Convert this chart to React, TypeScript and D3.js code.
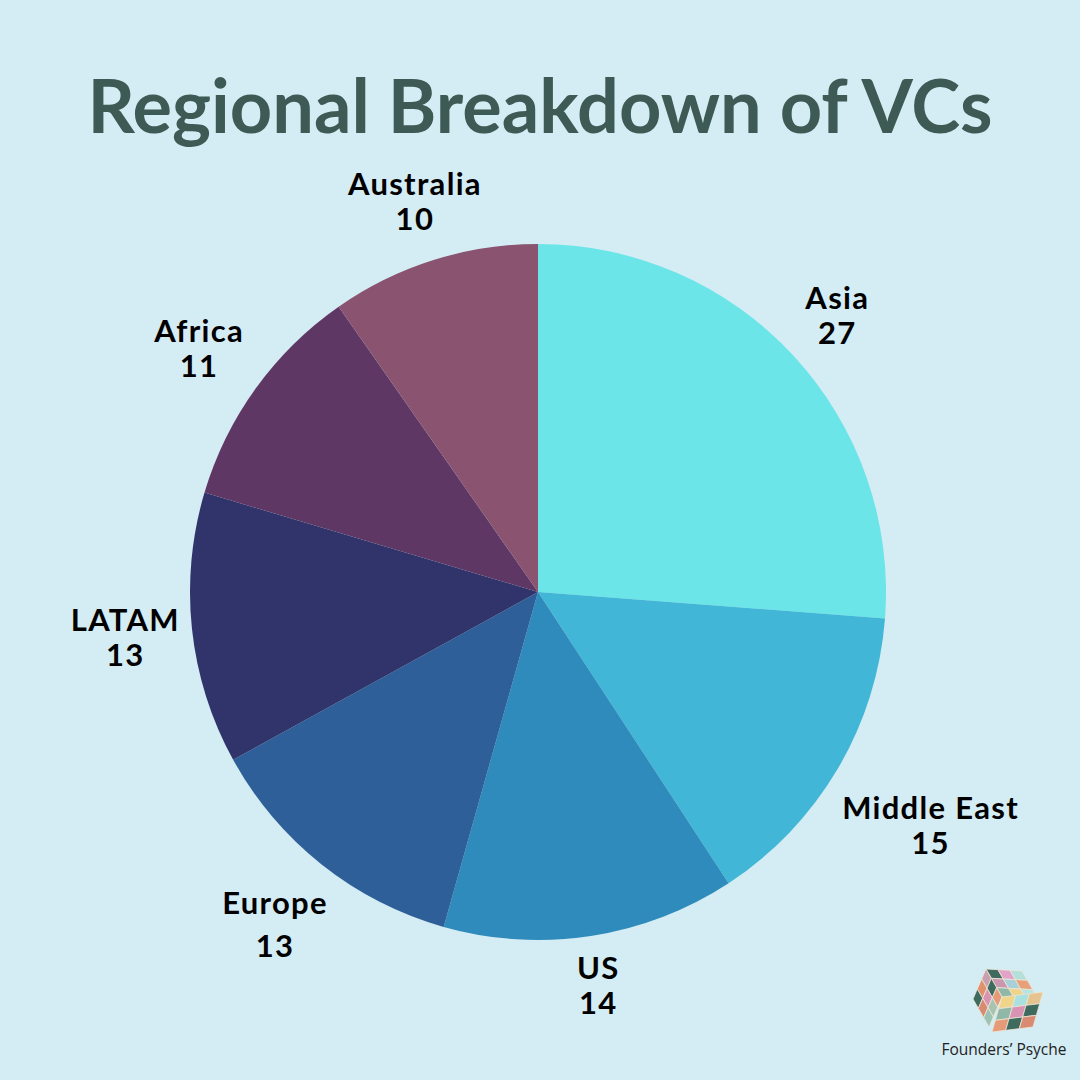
import React from "react";
import * as d3 from "d3";

const regions = ["Asia", "Middle East", "US", "Europe", "LATAM", "Africa", "Australia"];
const counts = [27, 15, 14, 13, 13, 11, 10];
const colors = ["#6be5e8", "#42b6d6", "#2e8bbb", "#2e5f98", "#30346b", "#5e3764", "#8a5370"];

const W = 1080;
const H = 1080;
const CX = 538;
const CY = 592;
const R = 348;
const labelR: Record<string, number> = {
  Asia: 408,
  "Middle East": 456,
  US: 397,
  Europe: 423,
  LATAM: 415,
  Africa: 418,
  Australia: 410,
};

// Rubik's cube logo: three faces, 3x3 cells each
const topFace = ["#3f6a5e", "#e3a3c8", "#b4e0dc", "#c998b0", "#a9cfd8", "#e8a07a", "#8fb8a8", "#efd48a", "#b7e3e0"];
const leftFace = ["#c9a0b0", "#3f6a5e", "#e59a78", "#e0906a", "#d994b4", "#a8c4b0", "#3f6a5e", "#d98a72", "#9cc4b4"];
const rightFace = ["#efd48a", "#a9e0e0", "#e6c490", "#8fb8a8", "#d994b4", "#3f6a5e", "#e59a78", "#3f6a5e", "#d98a72"];

type Face = { o: number[]; u: number[]; v: number[]; cols: string[] };

function Cube() {
  const faces: Face[] = [
    { o: [986, 969], u: [36, 2], v: [16, 28], cols: topFace },
    { o: [986, 969], u: [16, 28], v: [-13, 30], cols: leftFace },
    { o: [1002, 997], u: [41, -5], v: [-10, 35], cols: rightFace },
  ];
  const cells: JSX.Element[] = [];
  faces.forEach((f, fi) => {
    for (let i = 0; i < 3; i++)
      for (let j = 0; j < 3; j++) {
        const ux = f.u[0] / 3, uy = f.u[1] / 3, vx = f.v[0] / 3, vy = f.v[1] / 3;
        const px = f.o[0] + i * ux + j * vx;
        const py = f.o[1] + i * uy + j * vy;
        const pts = [
          [px, py],
          [px + ux, py + uy],
          [px + ux + vx, py + uy + vy],
          [px + vx, py + vy],
        ];
        cells.push(
          <polygon
            key={`${fi}-${i}-${j}`}
            points={pts.map((p) => p.join(",")).join(" ")}
            fill={f.cols[j * 3 + i]}
            stroke="#ece6d6"
            strokeWidth={0.8}
            strokeLinejoin="round"
          />
        );
      }
  });
  return <g>{cells}</g>;
}

export default function App() {
  const pie = d3.pie<number>().sort(null).value((d) => d);
  const arcs = pie(counts);
  const arc = d3.arc<d3.PieArcDatum<number>>().innerRadius(0).outerRadius(R);

  return (
    <svg width={W} height={H} style={{ position: "absolute", left: 0, top: 0 }}>
      <rect width={W} height={H} fill="#d4ecf4" />
      <text
        x={540}
        y={133}
        textAnchor="middle"
        fontFamily="Lato, 'Open Sans', sans-serif"
        fontWeight={700}
        fontSize={74}
        fill="#3d5a55"
        textLength={905}
        lengthAdjust="spacingAndGlyphs"
      >
        Regional Breakdown of VCs
      </text>
      <g transform={`translate(${CX},${CY})`}>
        {arcs.map((a, i) => (
          <path key={regions[i]} d={arc(a) || ""} fill={colors[i]} />
        ))}
        {arcs.map((a, i) => {
          const mid = (a.startAngle + a.endAngle) / 2;
          const lr = labelR[regions[i]];
          const x = lr * Math.sin(mid);
          const y = -lr * Math.cos(mid);
          const gap = regions[i] === "Europe" ? 21.5 : 17.5;
          return (
            <g
              key={"l" + regions[i]}
              fontFamily="Lato, 'Open Sans', sans-serif"
              fontWeight={700}
              fontSize={31}
              letterSpacing={1.3}
              fill="#000"
              textAnchor="middle"
            >
              <text x={x} y={y - gap} dominantBaseline="central">{regions[i]}</text>
              <text x={x} y={y + gap} dominantBaseline="central">{counts[i]}</text>
            </g>
          );
        })}
      </g>
      <Cube />
      <text x={1004} y={1055} textAnchor="middle" fontFamily="'Open Sans', sans-serif" fontSize={15.5} fill="#222">
        Founders’ Psyche
      </text>
    </svg>
  );
}
